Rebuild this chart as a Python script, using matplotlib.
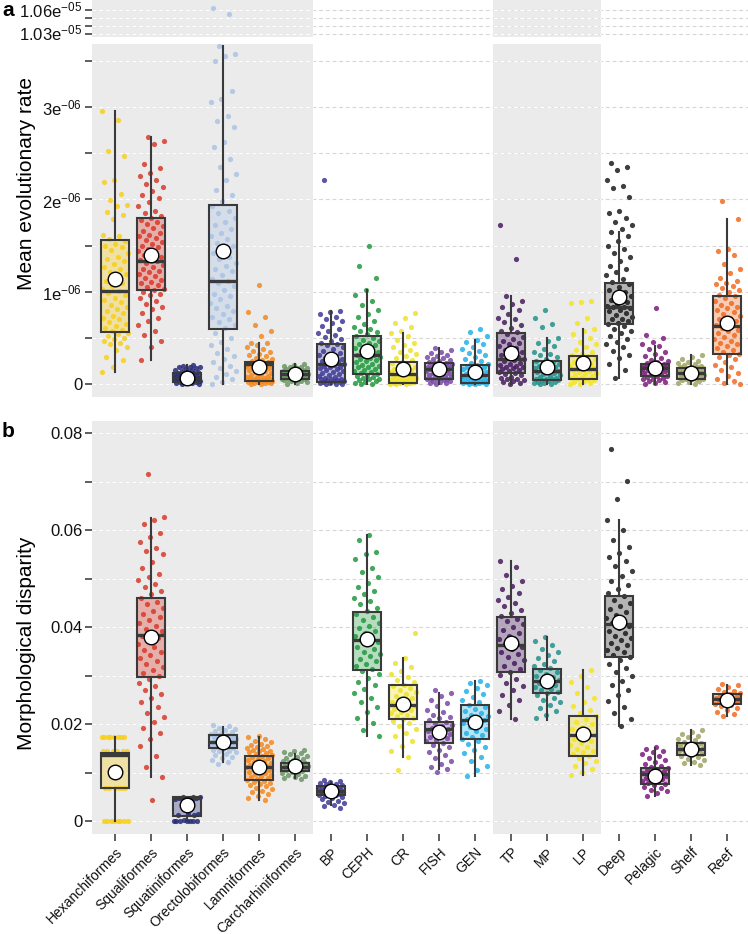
import numpy as np
import matplotlib
matplotlib.use("Agg")
import matplotlib.pyplot as plt
from matplotlib.colors import to_rgba

plt.rcParams['font.family'] = ['Liberation Sans', 'DejaVu Sans']
plt.rcParams['mathtext.fontset'] = 'custom'
plt.rcParams['mathtext.rm'] = 'Liberation Sans'

# ---------------- categories / colours ----------------
categories = ["Hexanchiformes", "Squaliformes", "Squatiniformes", "Orectolobiformes",
              "Lamniformes", "Carcharhiniformes", "BP", "CEPH", "CR", "FISH", "GEN",
              "TP", "MP", "LP", "Deep", "Pelagic", "Shelf", "Reef"]
colors = ["#F9CF1A", "#D93A2B", "#262A78", "#A9C3E5", "#F5891E", "#6B9665",
          "#3E3A95", "#22993F", "#EEE12A", "#7A4AA6", "#23B2E8",
          "#461B5E", "#23918B", "#F6E41D", "#1C1C1C", "#7B1C7C", "#A0A465", "#F06B22"]

# ---------------- panel a: mean evolutionary rate (units of 1e-6) ----------------
hex_a = [2.96,2.86,2.52,2.47,2.21,2.19,2.06,1.99,1.94,1.93,1.86,1.83,1.79,1.62,1.60,1.57,1.55,1.52,1.50,1.48,1.45,1.42,1.38,1.36,1.33,1.30,1.27,1.25,1.21,1.19,1.15,1.12,1.10,1.06,1.03,1.01,0.99,0.96,0.93,0.91,0.89,0.86,0.84,0.81,0.79,0.77,0.74,0.72,0.70,0.67,0.65,0.63,0.61,0.59,0.57,0.55,0.54,0.52,0.50,0.49,0.47,0.45,0.43,0.40,0.37,0.29,0.26,0.19,0.13]
squal_a = [2.68,2.63,2.60,2.38,2.34,2.29,2.25,2.21,2.17,2.13,2.09,2.05,2.02,1.97,1.93,1.88,1.85,1.82,1.80,1.78,1.76,1.73,1.71,1.69,1.66,1.64,1.62,1.60,1.58,1.56,1.54,1.52,1.50,1.48,1.46,1.44,1.42,1.40,1.38,1.36,1.34,1.33,1.31,1.29,1.27,1.25,1.23,1.21,1.19,1.17,1.15,1.13,1.11,1.09,1.07,1.05,1.03,1.02,1.00,0.98,0.96,0.93,0.90,0.87,0.84,0.81,0.77,0.72,0.68,0.64,0.58,0.53,0.47,0.40,0.26]
squat_a = [0.21,0.20,0.19,0.18,0.18,0.17,0.16,0.15,0.15,0.14,0.13,0.13,0.12,0.12,0.11,0.11,0.10,0.10,0.09,0.09,0.08,0.08,0.08,0.07,0.07,0.07,0.06,0.06,0.06,0.05,0.05,0.05,0.04,0.04,0.04,0.03,0.03,0.03,0.02,0.02,0.02,0.01,0.01,0.00,0.00]
orect_a = [10.62,10.55,3.66,3.58,3.55,3.50,3.17,3.09,3.06,2.90,2.85,2.78,2.62,2.57,2.44,2.35,2.28,2.21,2.10,2.05,1.98,1.93,1.88,1.85,1.80,1.76,1.72,1.68,1.64,1.60,1.57,1.53,1.50,1.46,1.42,1.38,1.35,1.31,1.28,1.25,1.22,1.18,1.14,1.12,1.10,1.06,1.02,0.98,0.95,0.92,0.88,0.85,0.82,0.79,0.76,0.73,0.70,0.67,0.64,0.61,0.55,0.50,0.46,0.42,0.38,0.34,0.30,0.27,0.24,0.20,0.17,0.14,0.11,0.08,0.05,0.02,0.00]
lamn_a = [1.07,0.78,0.73,0.64,0.58,0.52,0.45,0.44,0.42,0.40,0.38,0.36,0.35,0.33,0.31,0.30,0.28,0.27,0.26,0.25,0.24,0.24,0.23,0.23,0.22,0.22,0.22,0.21,0.21,0.20,0.20,0.19,0.18,0.17,0.16,0.15,0.14,0.13,0.12,0.11,0.10,0.09,0.08,0.08,0.07,0.06,0.06,0.05,0.05,0.04,0.04,0.03,0.03,0.03,0.02,0.02,0.02,0.01,0.01,0.01,0.00,0.00]
carch_a = [0.22,0.21,0.20,0.19,0.18,0.17,0.17,0.16,0.15,0.15,0.14,0.14,0.13,0.13,0.12,0.12,0.12,0.11,0.11,0.11,0.10,0.10,0.10,0.09,0.09,0.09,0.08,0.08,0.08,0.07,0.07,0.06,0.06,0.05,0.05,0.04,0.04,0.03,0.03,0.02,0.01,0.00]
bp_a = [2.21,0.79,0.78,0.76,0.73,0.70,0.68,0.66,0.63,0.60,0.57,0.55,0.53,0.51,0.49,0.47,0.45,0.43,0.42,0.40,0.38,0.36,0.34,0.33,0.31,0.30,0.28,0.27,0.26,0.25,0.24,0.23,0.22,0.21,0.20,0.19,0.18,0.17,0.16,0.15,0.14,0.13,0.12,0.11,0.10,0.09,0.08,0.07,0.06,0.06,0.05,0.04,0.04,0.03,0.03,0.02,0.02,0.01,0.01,0.00,0.00,0.00]
ceph_a = [1.50,1.28,1.15,1.02,0.97,0.90,0.86,0.80,0.76,0.73,0.68,0.65,0.62,0.60,0.58,0.56,0.54,0.52,0.50,0.48,0.47,0.45,0.43,0.42,0.40,0.39,0.37,0.36,0.35,0.33,0.32,0.31,0.30,0.29,0.28,0.27,0.26,0.25,0.24,0.22,0.21,0.20,0.19,0.18,0.16,0.15,0.14,0.13,0.12,0.11,0.10,0.09,0.08,0.07,0.06,0.05,0.04,0.03,0.02,0.01,0.00,0.00]
cr_a = [0.77,0.72,0.66,0.62,0.58,0.55,0.52,0.48,0.45,0.42,0.40,0.37,0.35,0.33,0.30,0.28,0.26,0.24,0.23,0.21,0.20,0.18,0.17,0.16,0.15,0.14,0.13,0.12,0.11,0.10,0.10,0.09,0.08,0.07,0.07,0.06,0.05,0.05,0.04,0.04,0.03,0.03,0.02,0.02,0.01,0.01,0.01,0.00,0.00,0.00]
fish_a = [0.39,0.37,0.35,0.34,0.32,0.30,0.29,0.28,0.27,0.26,0.25,0.24,0.23,0.23,0.22,0.21,0.20,0.20,0.19,0.18,0.18,0.17,0.17,0.16,0.16,0.15,0.15,0.14,0.13,0.12,0.12,0.11,0.10,0.09,0.08,0.08,0.07,0.06,0.06,0.05,0.05,0.04,0.03,0.03,0.02,0.01,0.01,0.00]
gen_a = [0.60,0.56,0.52,0.48,0.46,0.43,0.40,0.38,0.36,0.34,0.31,0.29,0.27,0.25,0.23,0.22,0.21,0.19,0.18,0.17,0.16,0.15,0.14,0.13,0.12,0.11,0.10,0.10,0.09,0.08,0.07,0.06,0.06,0.05,0.04,0.04,0.03,0.03,0.02,0.02,0.01,0.01,0.01,0.00,0.00,0.00]
tp_a = [1.72,1.35,0.95,0.90,0.87,0.83,0.80,0.76,0.72,0.70,0.67,0.64,0.61,0.58,0.56,0.54,0.51,0.49,0.47,0.45,0.43,0.41,0.39,0.37,0.35,0.33,0.31,0.29,0.28,0.27,0.26,0.25,0.23,0.22,0.21,0.20,0.19,0.18,0.17,0.16,0.15,0.14,0.13,0.12,0.11,0.10,0.08,0.07,0.06,0.05,0.04,0.03,0.02,0.01,0.00]
mp_a = [0.80,0.72,0.65,0.62,0.50,0.47,0.44,0.41,0.38,0.35,0.33,0.31,0.29,0.27,0.25,0.24,0.23,0.22,0.21,0.20,0.19,0.18,0.17,0.16,0.15,0.14,0.14,0.13,0.12,0.11,0.10,0.09,0.08,0.07,0.06,0.06,0.05,0.04,0.04,0.03,0.02,0.02,0.01,0.01,0.00,0.00]
lp_a = [0.90,0.89,0.88,0.72,0.66,0.60,0.57,0.54,0.50,0.46,0.43,0.40,0.37,0.35,0.33,0.31,0.30,0.28,0.27,0.25,0.24,0.22,0.21,0.20,0.19,0.18,0.17,0.16,0.15,0.14,0.13,0.12,0.11,0.10,0.09,0.08,0.07,0.06,0.05,0.04,0.03,0.02,0.01,0.00,0.00]
deep_a = [2.40,2.35,2.32,2.21,2.15,2.12,2.03,1.88,1.85,1.80,1.76,1.72,1.68,1.65,1.60,1.55,1.50,1.46,1.42,1.38,1.33,1.28,1.25,1.21,1.18,1.14,1.11,1.08,1.05,1.02,1.00,0.98,0.95,0.93,0.91,0.89,0.87,0.85,0.84,0.83,0.82,0.80,0.79,0.77,0.75,0.73,0.71,0.70,0.68,0.66,0.65,0.63,0.60,0.57,0.55,0.52,0.49,0.46,0.43,0.40,0.36,0.32,0.28,0.22,0.15,0.07]
pel_a = [0.82,0.53,0.50,0.46,0.43,0.41,0.38,0.35,0.33,0.30,0.28,0.26,0.25,0.24,0.23,0.22,0.21,0.20,0.20,0.19,0.19,0.18,0.18,0.17,0.17,0.16,0.16,0.15,0.14,0.13,0.12,0.11,0.10,0.09,0.09,0.08,0.07,0.06,0.05,0.04,0.03,0.02,0.01,0.00]
shelf_a = [0.31,0.29,0.27,0.25,0.24,0.23,0.22,0.21,0.20,0.19,0.18,0.18,0.17,0.17,0.16,0.15,0.15,0.14,0.14,0.13,0.13,0.12,0.12,0.11,0.11,0.10,0.10,0.09,0.09,0.08,0.08,0.07,0.06,0.06,0.05,0.05,0.04,0.03,0.02,0.01,0.00]
reef_a = [1.98,1.79,1.46,1.44,1.40,1.30,1.25,1.20,1.15,1.12,1.10,1.08,1.06,1.04,1.02,1.00,0.97,0.95,0.93,0.90,0.88,0.86,0.84,0.82,0.80,0.78,0.76,0.74,0.72,0.70,0.68,0.66,0.64,0.63,0.61,0.59,0.57,0.55,0.53,0.51,0.49,0.47,0.45,0.43,0.41,0.39,0.37,0.35,0.33,0.31,0.29,0.27,0.24,0.21,0.18,0.15,0.12,0.09,0.06,0.03,0.01,0.00]

q1_a   = [0.56, 1.02, 0.025, 0.60, 0.035, 0.06, 0.025, 0.105, 0.014, 0.054, 0.007, 0.115, 0.04, 0.06, 0.65, 0.087, 0.06, 0.33]
med_a  = [1.01, 1.33, 0.07, 1.12, 0.22, 0.105, 0.22, 0.31, 0.105, 0.16, 0.10, 0.27, 0.14, 0.16, 0.83, 0.17, 0.12, 0.63]
q3_a   = [1.56, 1.80, 0.115, 1.94, 0.24, 0.14, 0.43, 0.52, 0.24, 0.23, 0.21, 0.556, 0.25, 0.30, 1.10, 0.22, 0.17, 0.95]
lo_a   = [0.13, 0.26, 0.0, 0.0, 0.0, 0.0, 0.0, 0.0, 0.0, 0.0, 0.0, 0.0, 0.0, 0.0, 0.07, 0.0, 0.0, 0.0]
hi_a   = [2.96, 2.68, 0.21, 3.66, 0.45, 0.22, 0.79, 1.02, 0.55, 0.39, 0.48, 0.95, 0.50, 0.60, 1.65, 0.41, 0.31, 1.79]
mean_a = [1.14, 1.40, 0.07, 1.44, 0.19, 0.11, 0.27, 0.36, 0.16, 0.16, 0.13, 0.34, 0.18, 0.23, 0.945, 0.17, 0.12, 0.66]

# ---------------- panel b: morphological disparity (units of 1e-3) ----------------
hex_b = [17.3,17.3,17.3,17.3,17.3,17.3,17.3,17.3,14.4,14.4,14.4,14.4,14.4,14.4,6.9,6.9,6.9,6.9,6.9,6.9,0.0,0.0,0.0,0.0,0.0,0.0,0.0,0.0]
squal_b = [71.5,62.8,62.0,61.2,59.5,58.7,57.6,56.3,55.8,55.0,53.4,52.2,51.0,50.3,49.8,49.0,48.2,47.5,46.8,46.0,45.3,44.7,44.0,43.4,42.8,42.1,41.5,40.9,40.3,39.7,39.2,38.6,38.2,37.7,37.1,36.6,36.0,35.4,34.8,34.2,33.6,33.0,32.4,31.8,31.2,30.6,30.0,29.4,28.6,27.8,27.0,26.3,25.5,24.6,23.6,22.4,21.5,20.5,19.3,18.2,17.0,15.5,13.5,11.2,9.1,4.4]
squat_b = [5.1,5.0,5.0,4.9,4.9,4.8,4.7,4.6,4.2,3.5,1.6,1.5,1.4,1.3,0.3,0.1,0.0,0.0,0.0,0.0,0.0,0.0]
orect_b = [19.9,19.6,19.3,19.1,18.9,18.7,18.5,18.3,18.1,17.9,17.8,17.6,17.5,17.3,17.2,17.0,16.9,16.8,16.7,16.6,16.5,16.4,16.3,16.2,16.1,16.0,15.9,15.8,15.6,15.5,15.4,15.3,15.1,15.0,14.8,14.6,14.4,14.2,13.9,13.6,13.3,13.0,12.6,12.3,11.8]
lamn_b = [17.5,17.3,17.0,16.6,16.3,16.0,15.8,15.6,15.4,15.2,15.0,14.8,14.6,14.4,14.2,14.0,13.8,13.6,13.4,13.2,13.0,12.8,12.6,12.4,12.2,12.0,11.8,11.6,11.5,11.3,11.2,11.0,10.8,10.6,10.4,10.2,10.0,9.8,9.6,9.4,9.2,9.0,8.8,8.6,8.4,8.2,8.0,7.8,7.5,7.2,6.9,6.6,6.3,6.0,5.6,5.2,4.8,4.4]
carch_b = [14.8,14.6,14.3,14.0,13.8,13.5,13.3,13.1,12.9,12.7,12.5,12.3,12.2,12.0,11.9,11.8,11.7,11.6,11.5,11.4,11.3,11.2,11.1,11.0,10.9,10.8,10.7,10.6,10.5,10.4,10.2,10.0,9.8,9.6,9.4,9.2,9.0,8.8]
bp_b = [8.6,8.4,8.2,8.0,7.8,7.6,7.4,7.3,7.1,7.0,6.9,6.8,6.7,6.6,6.5,6.4,6.3,6.2,6.1,6.0,5.9,5.8,5.7,5.6,5.5,5.4,5.2,5.0,4.8,4.6,4.3,4.0,3.7,3.4,3.1,2.8]
ceph_b = [59.0,57.9,55.6,55.0,54.1,52.3,51.4,50.3,49.1,48.2,47.5,46.8,46.1,45.4,44.7,44.0,43.3,42.7,42.1,41.5,40.9,40.3,39.8,39.3,38.8,38.3,37.8,37.4,37.0,36.5,36.0,35.5,35.0,34.5,34.0,33.5,33.0,32.5,32.0,31.5,31.0,30.3,29.5,28.8,28.0,27.2,26.4,25.5,24.5,23.5,22.6,21.4,20.2,18.8,17.6]
cr_b = [38.8,33.7,32.6,31.8,31.0,30.4,29.8,29.2,28.7,28.2,27.8,27.4,27.0,26.6,26.2,25.8,25.4,25.0,24.7,24.4,24.1,23.8,23.5,23.2,22.9,22.6,22.3,22.0,21.7,21.4,21.1,20.7,20.2,19.6,19.0,18.3,17.5,16.6,15.6,14.4,13.2,10.5]
fish_b = [27.0,26.4,25.8,25.1,24.4,23.7,23.0,22.5,22.0,21.6,21.2,20.8,20.5,20.2,19.9,19.6,19.3,19.1,18.9,18.7,18.5,18.3,18.0,17.7,17.4,17.1,16.8,16.5,16.2,15.8,15.3,14.8,14.2,13.6,13.0,12.4,11.8,11.2,10.8,10.2]
gen_b = [29.0,28.6,28.0,27.4,26.8,26.2,25.6,25.0,24.5,24.0,23.6,23.2,22.8,22.4,22.0,21.7,21.4,21.1,20.8,20.5,20.2,19.8,19.4,19.0,18.6,18.2,17.8,17.4,17.0,16.5,16.0,15.4,14.8,14.0,13.2,12.4,11.5,10.5,9.4]
tp_b = [53.7,52.4,50.8,49.5,48.6,47.8,47.0,46.3,45.6,45.0,44.3,43.6,43.0,42.4,41.8,41.2,40.6,40.0,39.4,38.8,38.2,37.6,37.0,36.5,36.0,35.5,35.0,34.4,33.8,33.2,32.6,32.0,31.4,30.8,30.2,29.4,28.6,27.8,27.0,26.0,25.0,24.0,22.8,21.0]
mp_b = [37.9,37.2,36.4,35.6,34.9,34.2,33.6,33.0,32.5,32.0,31.6,31.2,30.8,30.4,30.0,29.7,29.4,29.1,28.8,28.5,28.2,27.9,27.6,27.3,27.0,26.7,26.4,26.0,25.5,25.0,24.5,24.0,23.4,22.8,22.0,21.2]
lp_b = [31.2,30.0,28.8,27.6,26.5,25.5,24.6,23.8,23.0,22.3,21.7,21.1,20.5,20.0,19.5,19.0,18.6,18.2,17.8,17.4,17.0,16.6,16.2,15.8,15.4,15.0,14.6,14.2,13.8,13.4,13.0,12.5,12.0,11.4,10.8,10.2,9.5]
deep_b = [76.8,70.2,66.4,62.1,60.0,58.0,56.6,55.4,54.5,53.6,52.6,51.5,50.5,49.6,48.7,47.9,47.1,46.4,45.7,45.0,44.4,43.8,43.2,42.6,42.0,41.4,40.8,40.3,39.8,39.3,38.8,38.3,37.8,37.3,36.8,36.3,35.8,35.3,34.8,34.3,33.8,33.2,32.4,31.6,30.8,30.0,29.0,28.0,27.0,26.0,24.8,23.6,22.3,21.0,19.7]
pel_b = [15.4,15.0,14.6,14.2,13.8,13.4,13.0,12.6,12.2,11.8,11.5,11.2,10.9,10.7,10.5,10.3,10.1,9.9,9.8,9.6,9.4,9.2,9.0,8.8,8.6,8.4,8.2,8.0,7.7,7.4,7.1,6.8,6.5,6.2,5.8,5.3]
shelf_b = [18.8,18.4,18.0,17.6,17.3,17.0,16.7,16.4,16.2,16.0,15.8,15.6,15.4,15.2,15.0,14.9,14.8,14.6,14.4,14.2,14.0,13.8,13.6,13.4,13.2,12.9,12.6,12.3,12.0,11.6]
reef_b = [28.4,28.0,27.6,27.2,26.9,26.6,26.4,26.2,26.0,25.8,25.6,25.5,25.3,25.2,25.1,25.0,24.8,24.6,24.4,24.2,24.0,23.7,23.4,23.0,22.6,22.1,21.7]

q1_b   = [6.9, 29.8, 1.2, 15.2, 8.5, 10.4, 5.4, 31.2, 21.1, 16.2, 17.0, 30.7, 26.4, 13.5, 33.9, 7.7, 13.7, 24.2]
med_b  = [13.7, 38.4, 4.8, 16.4, 11.3, 11.3, 6.2, 37.4, 24.0, 19.0, 20.9, 36.3, 29.0, 17.8, 40.6, 9.8, 14.9, 25.2]
q3_b   = [14.1, 46.0, 5.1, 17.8, 13.5, 12.0, 7.3, 43.2, 28.1, 20.4, 24.0, 42.1, 31.5, 21.7, 46.5, 10.9, 16.1, 26.2]
lo_b   = [0.0, 9.1, 0.0, 12.3, 4.4, 8.9, 3.4, 17.6, 13.2, 10.8, 9.4, 21.0, 20.9, 9.5, 19.7, 5.3, 11.6, 21.7]
hi_b   = [17.3, 62.5, 5.1, 19.5, 17.4, 13.8, 8.2, 59.0, 33.7, 26.4, 29.0, 53.7, 37.9, 31.2, 62.1, 15.2, 18.8, 28.2]
mean_b = [10.2, 37.9, 3.4, 16.3, 11.2, 11.4, 6.2, 37.5, 24.2, 18.5, 20.5, 36.7, 29.0, 18.0, 41.0, 9.4, 14.9, 25.0]

points_a = [hex_a, squal_a, squat_a, orect_a, lamn_a, carch_a, bp_a, ceph_a, cr_a, fish_a,
            gen_a, tp_a, mp_a, lp_a, deep_a, pel_a, shelf_a, reef_a]
points_b = [hex_b, squal_b, squat_b, orect_b, lamn_b, carch_b, bp_b, ceph_b, cr_b, fish_b,
            gen_b, tp_b, mp_b, lp_b, deep_b, pel_b, shelf_b, reef_b]

scale_a = 1e-6
scale_b = 1e-3

# ---------------- layout ----------------
W, H = 748, 934
fig = plt.figure(figsize=(W / 100, H / 100), dpi=100)
x0, x1 = 92, 748
XLIM = (-0.64, 17.58)
bands = [(XLIM[0], 5.5), (10.5, 13.5)]
tick_col = '#333333'
box_col = '#3A3A3A'


def add_ax(top_px, bot_px):
    return fig.add_axes([x0 / W, 1 - bot_px / H, (x1 - x0) / W, (bot_px - top_px) / H])


ax_top = add_ax(0, 37)
ax_a = add_ax(44, 397)
ax_b = add_ax(421, 834)


def setup(ax, ylim, grid_vals, major, major_labels, minor):
    ax.set_xlim(*XLIM)
    ax.set_ylim(*ylim)
    for s in ax.spines.values():
        s.set_visible(False)
    for b0, b1 in bands:
        ax.axvspan(b0, b1, color='#EBEBEB', lw=0, zorder=0.5)
    ax.hlines(grid_vals, XLIM[0], XLIM[1], colors='#D6D6D6', linestyles=(0, (3.5, 2.5)),
              lw=0.8, zorder=0.6)
    for b0, b1 in bands:
        ax.hlines(grid_vals, b0, b1, colors='white', linestyles=(0, (3.5, 2.5)),
                  lw=0.8, zorder=0.7)
    ax.set_yticks(major)
    ax.set_yticklabels(major_labels)
    ax.set_yticks(minor, minor=True)
    ax.tick_params(axis='y', which='both', length=5, width=1.1, color=tick_col,
                   labelsize=12, pad=2, labelcolor='#111111')
    ax.set_xticks([])


def jitter(n, i):
    return ((np.arange(n) * 0.6180339887 + 0.37 * i) % 1.0 - 0.5) * 0.74


def draw(ax, pts, q1, med, q3, lo, hi, mean, scale, boxes=True):
    for i, vals in enumerate(pts):
        v = np.asarray(vals) * scale
        ax.scatter(i + jitter(len(v), i), v, s=14, color=colors[i], alpha=0.85,
                   lw=0, zorder=2)
    if not boxes:
        return
    stats = [dict(med=med[i] * scale, q1=q1[i] * scale, q3=q3[i] * scale,
                  whislo=lo[i] * scale, whishi=hi[i] * scale, fliers=[])
             for i in range(len(pts))]
    bp = ax.bxp(stats, positions=np.arange(len(pts)), widths=0.78, patch_artist=True,
                showcaps=False, showfliers=False, manage_ticks=False,
                boxprops=dict(edgecolor=box_col, linewidth=1.5),
                whiskerprops=dict(color=box_col, linewidth=1.5),
                medianprops=dict(color=box_col, linewidth=2.4))
    for i, patch in enumerate(bp['boxes']):
        patch.set_facecolor(to_rgba(colors[i], 0.33))
        patch.set_zorder(3)
    for w in bp['whiskers']:
        w.set_zorder(2.5)
    for m in bp['medians']:
        m.set_zorder(3.5)
    ax.plot(np.arange(len(pts)), np.asarray(mean) * scale, 'o', ms=10.5,
            mfc='white', mec='black', mew=1.0, ls='none', zorder=5)


# top broken part of panel a
top_major = [1.03e-5, 1.06e-5]
top_minor = [1.04e-5, 1.05e-5]
setup(ax_top, (1.0257e-5, 1.0727e-5), top_major + top_minor, top_major,
      [r'$\mathregular{1.03e^{-05}}$', r'$\mathregular{1.06e^{-05}}$'], top_minor)
for lab in ax_top.get_yticklabels():
    lab.set_va('center')
draw(ax_top, points_a, q1_a, med_a, q3_a, lo_a, hi_a, mean_a, scale_a, boxes=False)

# main panel a
a_major = [0, 1e-6, 2e-6, 3e-6]
a_minor = [0.5e-6, 1.5e-6, 2.5e-6, 3.5e-6]
setup(ax_a, (-0.14e-6, 3.684e-6), sorted(a_major + a_minor), a_major,
      ['0', r'$\mathregular{1e^{-06}}$', r'$\mathregular{2e^{-06}}$', r'$\mathregular{3e^{-06}}$'],
      a_minor)
draw(ax_a, points_a, q1_a, med_a, q3_a, lo_a, hi_a, mean_a, scale_a)

# panel b
b_major = [0, 0.02, 0.04, 0.06, 0.08]
b_minor = [0.01, 0.03, 0.05, 0.07]
setup(ax_b, (-0.0026, 0.0825), sorted(b_major + b_minor), b_major,
      ['0', '0.02', '0.04', '0.06', '0.08'], b_minor)
draw(ax_b, points_b, q1_b, med_b, q3_b, lo_b, hi_b, mean_b, scale_b)
ax_b.set_xticks(np.arange(len(categories)))
ax_b.set_xticklabels(categories, rotation=45, ha='right', rotation_mode='anchor',
                     fontsize=10, color='#111111')
ax_b.tick_params(axis='x', length=5, width=1.1, color=tick_col, pad=3)

# labels
fig.text(27 / W, 1 - 184 / H, 'Mean evolutionary rate', rotation=90, ha='center',
         va='center', fontsize=15)
fig.text(27 / W, 1 - 643 / H, 'Morphological disparity', rotation=90, ha='center',
         va='center', fontsize=15)
fig.text(2 / W, 1 - 10 / H, 'a', fontsize=15, fontweight='bold', ha='left', va='center')
fig.text(2 / W, 1 - 432 / H, 'b', fontsize=15, fontweight='bold', ha='left', va='center')

fig.savefig('out.png', dpi=100)
